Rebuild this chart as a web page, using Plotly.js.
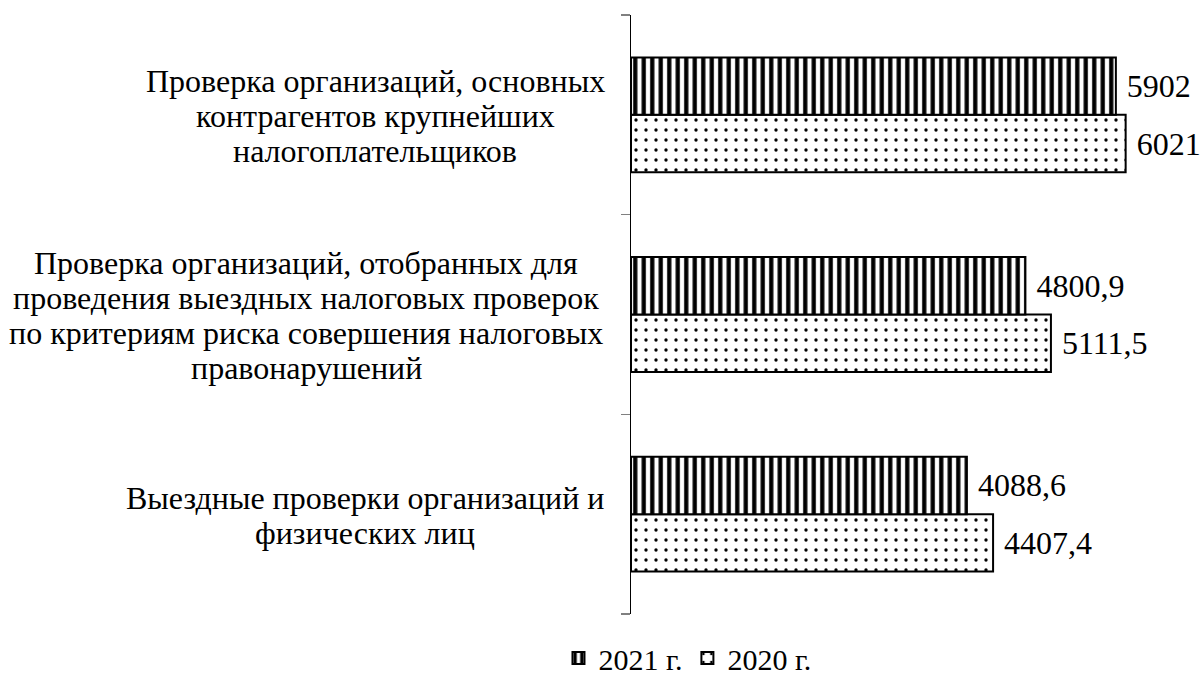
<!DOCTYPE html>
<html>
<head>
<meta charset="utf-8">
<script src="https://cdn.plot.ly/plotly-3.0.1.min.js"></script>
</head>
<body style="margin:0">
<div id="chart"></div>
<script>
const categories = [
  "Выездные проверки организаций и<br>физических лиц",
  "Проверка организаций, отобранных для<br>проведения выездных налоговых проверок<br>по критериям риска совершения налоговых<br>правонарушений",
  "Проверка организаций, основных<br>контрагентов крупнейших<br>налогоплательщиков"
];
const catKeys = ["c1", "c2", "c3"];
const values2021 = [4088.6, 4800.9, 5902];
const values2020 = [4407.4, 5111.5, 6021];
const seriesNames = ["2021 г.", "2020 г."];

const FONT = "Liberation Serif";
const FS = 32;
const fmt = v => "\u00a0" + String(v).replace(".", ",");

const trace2020 = {
  type: "bar", orientation: "h",
  name: seriesNames[1],
  y: catKeys, x: values2020,
  text: values2020.map(fmt), texttemplate: "%{text}",
  marker: {
    color: "#ffffff",
    line: {color: "#000000", width: 2},
    pattern: {shape: ".", fgcolor: "#000000", bgcolor: "#ffffff", size: 10, solidity: 0.09}
  },
  textposition: "outside", cliponaxis: false,
  outsidetextfont: {family: FONT, size: FS, color: "#000000"},
  hoverinfo: "skip"
};
const trace2021 = {
  type: "bar", orientation: "h",
  name: seriesNames[0],
  y: catKeys, x: values2021,
  text: values2021.map(fmt), texttemplate: "%{text}",
  marker: {
    color: "#ffffff",
    line: {color: "#000000", width: 2},
    pattern: {shape: "|", fgcolor: "#000000", bgcolor: "#ffffff", size: 8.5, solidity: 0.5}
  },
  textposition: "outside", cliponaxis: false,
  outsidetextfont: {family: FONT, size: FS, color: "#000000"},
  hoverinfo: "skip"
};

// label blocks: centered lines, tighter line spacing than Plotly's default
const blockCenterShift = [-266, -325, -256];  // px from plot left edge to each block's center
const LINE_H = 35;
const annotations = [];
catKeys.forEach((k, i) => {
  const lines = categories[i].split("<br>");
  const n = lines.length;
  lines.forEach((ln, j) => {
    annotations.push({
      xref: "paper", yref: "y", x: 0, y: k,
      xshift: blockCenterShift[i], yshift: ((n - 1) / 2 - j) * LINE_H - 1,
      xanchor: "center", yanchor: "middle", align: "center",
      text: ln, showarrow: false,
      font: {family: FONT, size: FS, color: "#000000"}
    });
  });
});

const layout = {
  width: 1204, height: 684,
  margin: {l: 631, r: 39, t: 15, b: 70},
  barmode: "group", bargap: 0.425, bargroupgap: 0,
  xaxis: {range: [0, 6500], visible: false},
  yaxis: {
    type: "category", categoryorder: "array", categoryarray: catKeys,
    range: [-0.5, 2.5],
    showline: true, linecolor: "#000000", linewidth: 1.5,
    ticks: "outside", tickson: "boundaries", ticklen: 9, tickcolor: "#808080", tickwidth: 1.5,
    showticklabels: false, showgrid: false, zeroline: false
  },
  showlegend: true,
  legend: {
    orientation: "h", x: 0.571, xref: "container", xanchor: "center",
    y: 0.0, yref: "container", yanchor: "bottom",
    traceorder: "reversed",
    font: {family: FONT, size: 30, color: "#000000"},
    itemwidth: 30
  },
  annotations: annotations
};

Plotly.newPlot("chart", [trace2020, trace2021], layout, {staticPlot: true});
</script>
</body>
</html>
